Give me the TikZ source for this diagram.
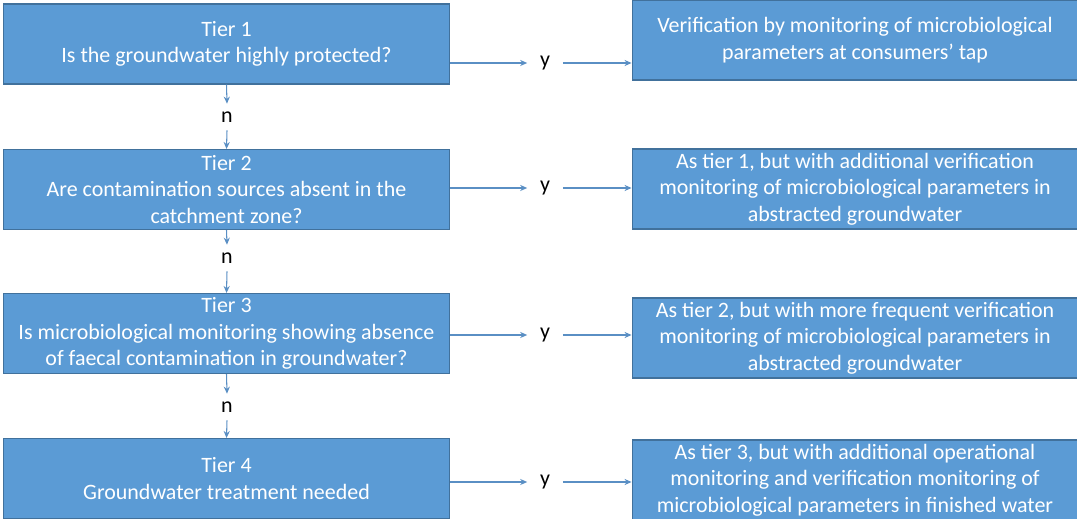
\documentclass[tikz,border=0pt]{standalone}
\usepackage{fontspec}
\setmainfont{Carlito}
\usetikzlibrary{arrows.meta}
\definecolor{tierblue}{HTML}{5B9BD5}
\definecolor{tierline}{HTML}{41719C}
\definecolor{flowblue}{HTML}{5A8FC4}
\begin{document}
\begin{tikzpicture}[x=0.02cm, y=-0.02cm, every node/.style={font=\fontsize{12.5}{15}\selectfont},
  tierbox/.style={draw=tierline, fill=tierblue, text=white, align=center, line width=0.6pt,
    minimum width=8.92cm, minimum height=1.6cm, inner sep=2pt},
  flow/.style={-{Stealth[length=4pt,width=3.5pt]}, flowblue, line width=0.6pt},
  answer/.style={inner sep=0pt, minimum width=0.7cm, minimum height=0.52cm}]
  \clip (0,0) rectangle (1077,519);
  % left column: the four tiers
  \node[tierbox] (t1) at (226.5,44) {Tier 1\\Is the groundwater highly protected?};
  \node[tierbox] (t2) at (226.5,189.5) {Tier 2\\Are contamination sources absent in the\\catchment zone?};
  \node[tierbox] (t3) at (226.5,333.5) {Tier 3\\Is microbiological monitoring showing absence\\of faecal contamination in groundwater?};
  \node[tierbox] (t4) at (226.5,478.5) {Tier 4\\Groundwater treatment needed};
  % right column: what follows from a yes
  \node[tierbox] (r1) at (855,40) {Verification by monitoring of microbiological\\parameters at consumers’ tap};
  \node[tierbox] (r2) at (855,189) {As tier 1, but with additional verification\\monitoring of microbiological parameters in\\abstracted groundwater};
  \node[tierbox] (r3) at (855,338) {As tier 2, but with more frequent verification\\monitoring of microbiological parameters in\\abstracted groundwater};
  \node[tierbox] (r4) at (855,480) {As tier 3, but with additional operational\\monitoring and verification monitoring of\\microbiological parameters in finished water};
  % no answers
  \node[answer] (n1) at (227,117) {n};
  \node[answer] (n2) at (227,258) {n};
  \node[answer] (n3) at (227,407) {n};
  % yes answers
  \node[answer] (y1) at (545,63) {y};
  \node[answer] (y2) at (545,188) {y};
  \node[answer] (y3) at (545,335) {y};
  \node[answer] (y4) at (545,482) {y};
  % down the tiers
  \draw[flow] (t1.south) -- (n1.north);
  \draw[flow] (n1.south) -- (t2.north);
  \draw[flow] (t2.south) -- (n2.north);
  \draw[flow] (n2.south) -- (t3.north);
  \draw[flow] (t3.south) -- (n3.north);
  \draw[flow] (n3.south) -- (t4.north);
  % across to the outcomes
  \draw[flow] (y1 -| t1.east) -- (y1.west);
  \draw[flow] (y1.east) -- (y1 -| r1.west);
  \draw[flow] (y2 -| t2.east) -- (y2.west);
  \draw[flow] (y2.east) -- (y2 -| r2.west);
  \draw[flow] (y3 -| t3.east) -- (y3.west);
  \draw[flow] (y3.east) -- (y3 -| r3.west);
  \draw[flow] (y4 -| t4.east) -- (y4.west);
  \draw[flow] (y4.east) -- (y4 -| r4.west);
\end{tikzpicture}
\end{document}
